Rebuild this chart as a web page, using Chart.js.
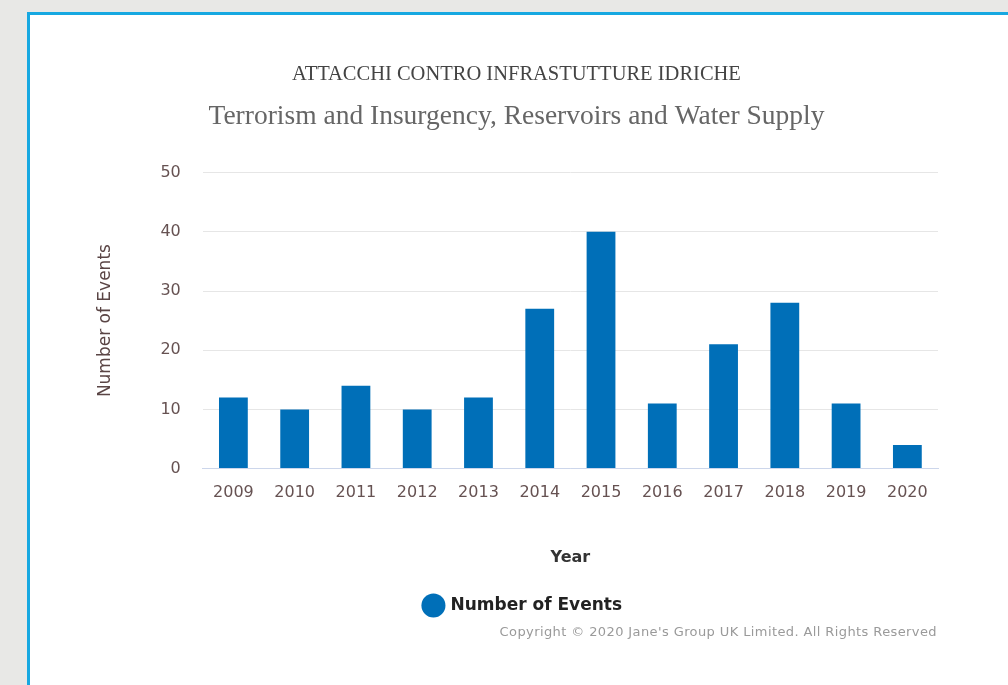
<!DOCTYPE html>
<html><head><meta charset="utf-8">
<script src="https://cdn.jsdelivr.net/npm/chart.js@4.4.1/dist/chart.umd.min.js"></script>
<style>
html,body{margin:0;padding:0;width:1008px;height:685px;overflow:hidden;background:#e8e8e6;}
#card{position:absolute;left:27px;top:12px;width:1010px;height:700px;box-sizing:border-box;border:3px solid #17a8e1;background:#fff;}
#wrap{position:absolute;left:0;top:0;width:1008px;height:685px;}
#copy{position:absolute;right:71px;top:624px;font-family:"DejaVu Sans",sans-serif;font-size:13px;letter-spacing:0.4px;color:#9a9a9a;white-space:nowrap;}
</style></head>
<body>
<div id="card"></div>
<div id="wrap"><canvas id="c" width="1008" height="685"></canvas></div>
<div id="copy">Copyright © 2020 Jane's Group UK Limited. All Rights Reserved</div>
<script>
const categories = ['2009','2010','2011','2012','2013','2014','2015','2016','2017','2018','2019','2020'];
const events = [12,10,14,10,12,27,40,11,21,28,11,4];
const yTicks = [0,10,20,30,40,50];

const legendShift = {
  id: 'legendShift',
  afterLayout(chart) {
    if (chart.legend) { chart.legend.left += 7; chart.legend.right += 7; }
  }
};

new Chart(document.getElementById('c'), {
  type: 'bar',
  data: {
    labels: categories,
    datasets: [{
      label: 'Number of Events',
      data: events,
      backgroundColor: '#006fb8',
      borderWidth: 0,
      categoryPercentage: 1,
      barPercentage: 0.47
    }]
  },
  plugins: [legendShift],
  options: {
    responsive: false,
    animation: false,
    layout: { padding: { left: 95, right: 70, top: 62, bottom: 61 } },
    plugins: {
      title: {
        display: true,
        text: 'ATTACCHI CONTRO INFRASTUTTURE IDRICHE',
        font: { family: '"Liberation Serif", serif', size: 20.5, weight: 'normal' },
        color: '#444',
        padding: { top: 0, bottom: 14 }
      },
      subtitle: {
        display: true,
        text: 'Terrorism and Insurgency, Reservoirs and Water Supply',
        font: { family: '"Liberation Serif", serif', size: 27.5, weight: 'normal' },
        color: '#666',
        padding: { top: 0, bottom: 39 }
      },
      legend: {
        position: 'bottom',
        labels: {
          usePointStyle: true,
          pointStyle: 'circle',
          boxWidth: 18,
          boxHeight: 18,
          font: { family: '"DejaVu Sans", sans-serif', size: 17, weight: 'bold' },
          color: '#222',
          padding: 30
        }
      },
      tooltip: { enabled: false }
    },
    scales: {
      x: {
        grid: { display: false, drawTicks: false },
        border: { display: true, color: '#ccd6eb', width: 1 },
        ticks: { font: { family: '"DejaVu Sans", sans-serif', size: 16 }, color: '#665252', padding: 15 },
        title: { display: true, text: 'Year', font: { family: '"DejaVu Sans", sans-serif', size: 16, weight: 'bold' }, color: '#333', padding: { top: 30, bottom: 0 } }
      },
      y: {
        min: 0, max: 50,
        afterBuildTicks: (s) => { s.ticks = yTicks.map(v => ({ value: v })); },
        grid: { color: (ctx) => ctx.tick && ctx.tick.value === 0 ? '#ccd6eb' : '#e6e6e6', drawTicks: false },
        border: { display: false },
        ticks: { font: { family: '"DejaVu Sans", sans-serif', size: 16 }, color: '#665252', padding: 22 },
        title: { display: true, text: 'Number of Events', font: { family: '"DejaVu Sans", sans-serif', size: 17 }, color: '#5a4545', padding: { top: 0, bottom: 23 } }
      }
    }
  }
});
</script>
</body></html>
